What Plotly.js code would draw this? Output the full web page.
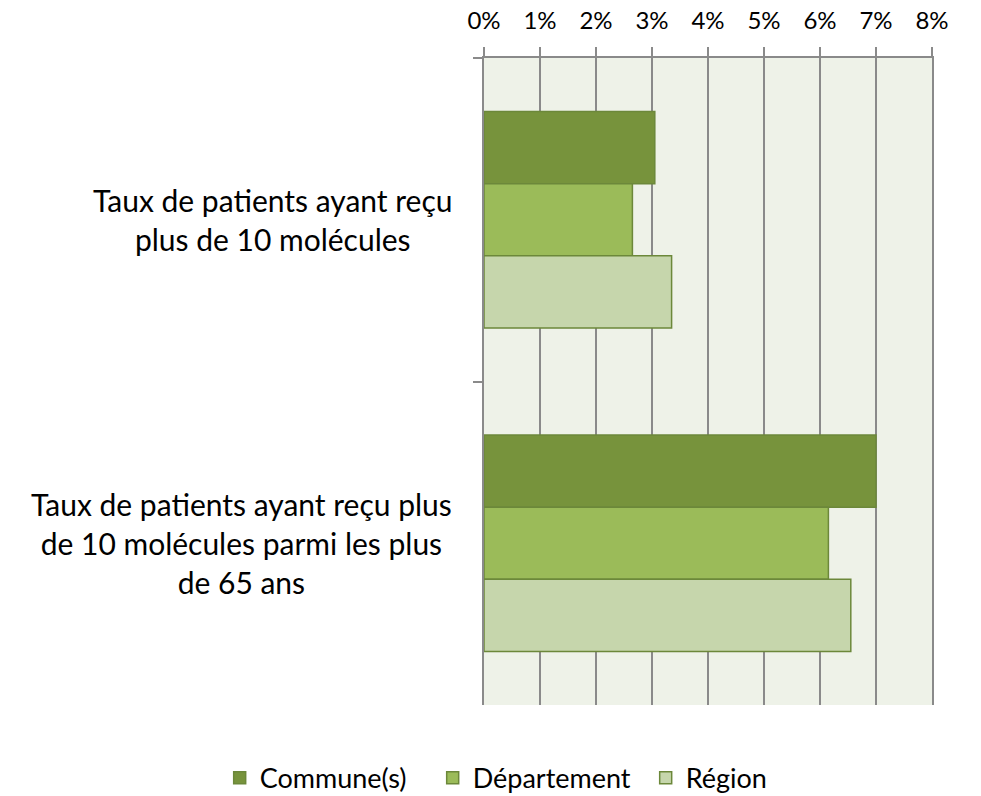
<!DOCTYPE html>
<html>
<head>
<meta charset="utf-8">
<script src="https://cdn.plot.ly/plotly-3.0.1.min.js"></script>
<style>
	html, body { margin: 0; padding: 0; background: #ffffff; }
	#plot { width: 981px; height: 796px; }
</style>
</head>
<body>
<div id="plot"></div>
<script>
// catégories (axe vertical, de haut en bas)
const categories = [
	"Taux de patients ayant reçu<br>plus de 10 molécules",
	"Taux de patients ayant reçu plus<br>de 10 molécules parmi les plus<br>de 65 ans"
];
const commune = [3.05, 7.0];
const departement = [2.65, 6.15];
const region = [3.35, 6.55];
const seriesNames = ["Commune(s)", "Département", "Région"];
const seriesColors = ["#77933C", "#9BBB59", "#C6D6AC"];
const tickVals = [0, 1, 2, 3, 4, 5, 6, 7, 8];
const tickText = ["0%", "1%", "2%", "3%", "4%", "5%", "6%", "7%", "8%"];

const FONT = "Lato, 'Open Sans', sans-serif";

const traces = [commune, departement, region].map((vals, i) => ({
	type: "bar",
	orientation: "h",
	x: vals,
	y: categories,
	name: seriesNames[i],
	marker: {
		color: seriesColors[i],
		line: { color: "#6C883A", width: 1.5 }
	},
	hoverinfo: "x+name"
}));

// étiquettes centrées à gauche de l'axe
const annotations = categories.map(c => ({
	xref: "paper",
	yref: "y",
	x: 0,
	y: c,
	xanchor: "right",
	yanchor: "middle",
	xshift: -30,
	align: "center",
	showarrow: false,
	text: c,
	font: { family: FONT, size: 30, color: "#000000" }
}));

const layout = {
	width: 981,
	height: 796,
	margin: { l: 484, r: 49, t: 58, b: 91, autoexpand: false },
	paper_bgcolor: "#ffffff",
	plot_bgcolor: "#EEF2E8",
	barmode: "group",
	bargap: 0.33,
	bargroupgap: 0,
	font: { family: FONT, size: 22, color: "#000000" },
	xaxis: {
		side: "top",
		range: [0, 8],
		tickmode: "array",
		tickvals: tickVals,
		ticktext: tickText,
		showgrid: true,
		gridcolor: "#8A8A8A",
		gridwidth: 2,
		zeroline: false,
		showline: true,
		linecolor: "#8A8A8A",
		linewidth: 2,
		ticks: "outside",
		ticklen: 9,
		tickwidth: 2,
		tickcolor: "#8A8A8A",
		ticklabelstandoff: 8,
		tickfont: { family: FONT, size: 24 },
		fixedrange: true
	},
	yaxis: {
		type: "category",
		autorange: "reversed",
		showticklabels: false,
		tickson: "boundaries",
		ticks: "outside",
		ticklen: 9,
		tickwidth: 2,
		tickcolor: "#8A8A8A",
		showgrid: false,
		showline: true,
		mirror: true,
		linecolor: "#8A8A8A",
		linewidth: 2,
		fixedrange: true
	},
	annotations: annotations,
	showlegend: true,
	legend: {
		orientation: "h",
		xref: "paper",
		yref: "paper",
		x: -0.59,
		y: -0.113,
		xanchor: "left",
		yanchor: "middle",
		font: { family: FONT, size: 27 },
		entrywidth: 168,
		traceorder: "normal"
	}
};

Plotly.newPlot("plot", traces, layout, { displayModeBar: false, staticPlot: true });
</script>
</body>
</html>
